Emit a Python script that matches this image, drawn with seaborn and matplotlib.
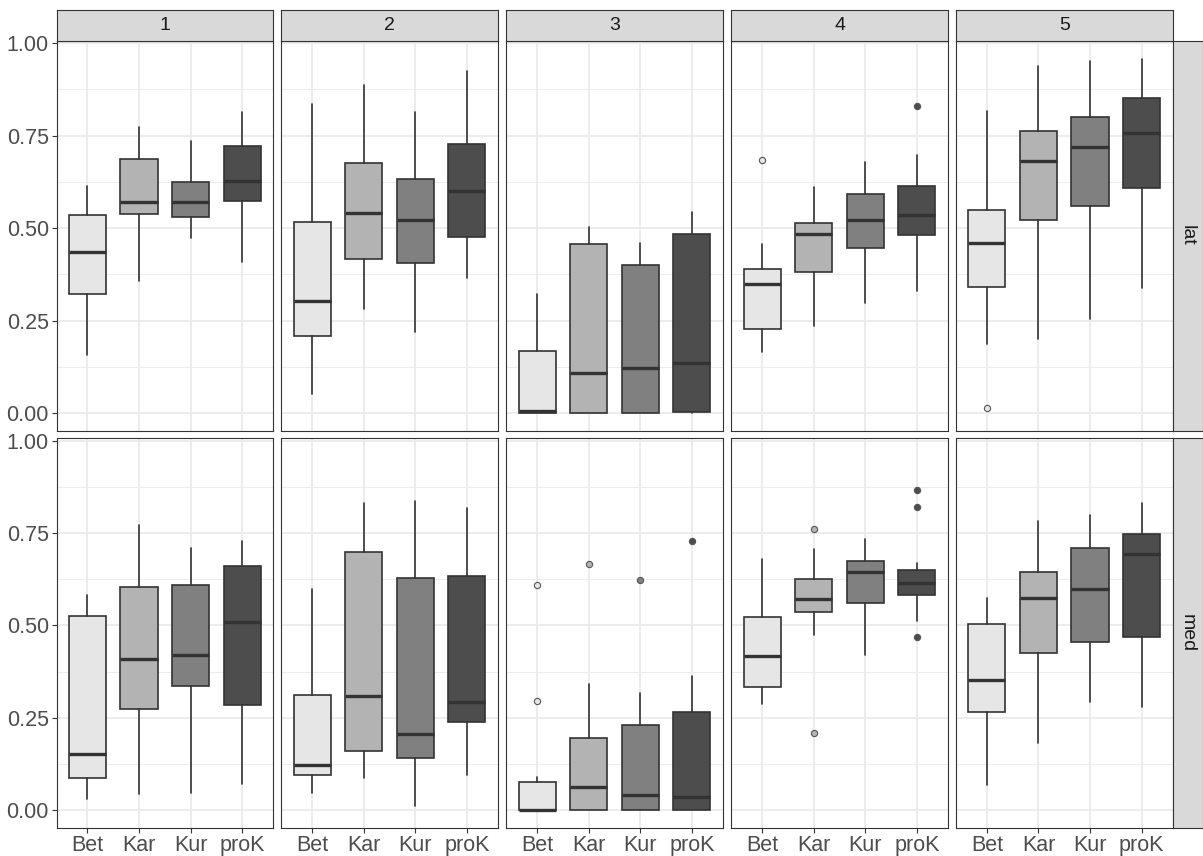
import matplotlib
matplotlib.use("Agg")
import matplotlib.pyplot as plt
import seaborn as sns

sns.set_theme(style="white")
plt.rcParams['font.family'] = ['Liberation Sans', 'DejaVu Sans']

# ---------------- data ----------------
groups = ["Bet", "Kar", "Kur", "proK"]
facets = ["1", "2", "3", "4", "5"]
rows = ["lat", "med"]
fills = ["#E6E6E6", "#B3B3B3", "#808080", "#4D4D4D"]

# each list: one row per facet (1..5), one value per group (Bet, Kar, Kur, proK)
lat_lo = [[0.158, 0.356, 0.474, 0.408],
          [0.051, 0.281, 0.218, 0.364],
          [0.000, 0.000, 0.000, 0.000],
          [0.166, 0.236, 0.297, 0.329],
          [0.187, 0.201, 0.255, 0.338]]
lat_q1 = [[0.323, 0.537, 0.531, 0.574],
          [0.209, 0.416, 0.406, 0.476],
          [0.000, 0.000, 0.000, 0.003],
          [0.227, 0.381, 0.445, 0.481],
          [0.342, 0.523, 0.560, 0.608]]
lat_med = [[0.436, 0.570, 0.570, 0.628],
           [0.304, 0.542, 0.522, 0.601],
           [0.005, 0.107, 0.121, 0.134],
           [0.348, 0.483, 0.523, 0.535],
           [0.459, 0.681, 0.719, 0.756]]
lat_q3 = [[0.536, 0.687, 0.624, 0.721],
          [0.517, 0.676, 0.633, 0.727],
          [0.168, 0.456, 0.400, 0.484],
          [0.390, 0.515, 0.592, 0.614],
          [0.548, 0.764, 0.801, 0.853]]
lat_hi = [[0.615, 0.773, 0.736, 0.814],
          [0.837, 0.886, 0.815, 0.924],
          [0.323, 0.502, 0.460, 0.543],
          [0.456, 0.610, 0.678, 0.699],
          [0.817, 0.939, 0.953, 0.958]]
lat_out = [[[], [], [], []],
           [[], [], [], []],
           [[], [], [], []],
           [[0.685], [], [], [0.831]],
           [[0.014], [], [], []]]

med_lo = [[0.030, 0.043, 0.045, 0.070],
          [0.045, 0.086, 0.012, 0.095],
          [0.000, 0.000, 0.000, 0.000],
          [0.288, 0.473, 0.420, 0.511],
          [0.068, 0.181, 0.292, 0.280]]
med_q1 = [[0.086, 0.273, 0.336, 0.284],
          [0.096, 0.159, 0.142, 0.239],
          [0.000, 0.000, 0.000, 0.000],
          [0.334, 0.536, 0.560, 0.583],
          [0.265, 0.424, 0.455, 0.470]]
med_med = [[0.151, 0.410, 0.419, 0.510],
           [0.122, 0.309, 0.205, 0.292],
           [0.001, 0.063, 0.041, 0.036],
           [0.417, 0.572, 0.645, 0.615],
           [0.353, 0.575, 0.598, 0.694]]
med_q3 = [[0.525, 0.603, 0.609, 0.661],
          [0.311, 0.698, 0.629, 0.634],
          [0.077, 0.196, 0.230, 0.265],
          [0.524, 0.625, 0.675, 0.651],
          [0.505, 0.645, 0.710, 0.748]]
med_hi = [[0.582, 0.772, 0.709, 0.728],
          [0.599, 0.831, 0.837, 0.817],
          [0.090, 0.340, 0.317, 0.363],
          [0.680, 0.706, 0.734, 0.670],
          [0.574, 0.782, 0.799, 0.833]]
med_out = [[[], [], [], []],
           [[], [], [], []],
           [[0.610, 0.295], [0.666], [0.624], [0.730]],
           [[], [0.761, 0.209], [], [0.867, 0.820, 0.470]],
           [[], [], [], []]]

y_ticks = [0.00, 0.25, 0.50, 0.75, 1.00]
y_minor = [0.125, 0.375, 0.625, 0.875]

stats = {
    "lat": (lat_lo, lat_q1, lat_med, lat_q3, lat_hi, lat_out),
    "med": (med_lo, med_q1, med_med, med_q3, med_hi, med_out),
}

# ---------------- layout ----------------
W, H = 1203, 856
fig = plt.figure(figsize=(W / 100, H / 100), dpi=100)
fig.patch.set_facecolor("white")

col_x = [56.5, 281.3, 506.3, 731.3, 956.0]
pw = 216.5
row_y = [(40.7, 430.7), (438.3, 827.7)]
strip_top = 10.0
strip_right_w = 30.0
border = "#333333"
grid_c = "#EBEBEB"
text_c = "#4D4D4D"

for r, row in enumerate(rows):
    lo, q1, md, q3, hi, outs = stats[row]
    y0, y1 = row_y[r]
    for c in range(len(facets)):
        x0 = col_x[c]
        ax = fig.add_axes([x0 / W, 1 - y1 / H, pw / W, (y1 - y0) / H])
        ax.set_facecolor("white")
        ax.set_xlim(-0.6, 3.6)
        ax.set_ylim(-0.048, 1.007)
        ax.set_yticks(y_ticks)
        ax.set_yticks(y_minor, minor=True)
        ax.set_xticks(range(len(groups)))
        ax.grid(which="major", color=grid_c, lw=1.3)
        ax.grid(which="minor", axis="y", color=grid_c, lw=0.65)
        ax.set_axisbelow(True)

        bstats = []
        for g in range(len(groups)):
            bstats.append(dict(med=md[c][g], q1=q1[c][g], q3=q3[c][g],
                               whislo=lo[c][g], whishi=hi[c][g],
                               fliers=outs[c][g], label=groups[g]))
        bp = ax.bxp(bstats, positions=range(len(groups)), widths=0.72,
                    patch_artist=True, showcaps=False, manage_ticks=False,
                    boxprops=dict(edgecolor=border, lw=1.2),
                    medianprops=dict(color=border, lw=2.4, solid_capstyle="butt"),
                    whiskerprops=dict(color=border, lw=1.2),
                    flierprops=dict(marker="o", markersize=4.5,
                                    markeredgecolor="#555555",
                                    markeredgewidth=0.8))
        for patch, col in zip(bp["boxes"], fills):
            patch.set_facecolor(col)
        for fl, col in zip(bp["fliers"], fills):
            fl.set_markerfacecolor(col)

        for sp in ax.spines.values():
            sp.set_color(border)
            sp.set_linewidth(0.8)

        if c == 0:
            ax.set_yticklabels([f"{v:.2f}" for v in y_ticks])
            ax.tick_params(axis="y", which="major", length=3.5, width=0.8,
                           color=border, labelsize=15.5, labelcolor=text_c, pad=2,
                           left=True)
        else:
            ax.set_yticklabels([])
            ax.tick_params(axis="y", which="major", length=0)
        ax.tick_params(axis="y", which="minor", length=0)

        if r == len(rows) - 1:
            ax.set_xticklabels(groups)
            ax.tick_params(axis="x", length=3.5, width=0.8, color=border,
                           labelsize=15.5, labelcolor=text_c, pad=2, bottom=True)
        else:
            ax.set_xticklabels([])
            ax.tick_params(axis="x", length=0)

        # top strips
        if r == 0:
            sax = fig.add_axes([x0 / W, 1 - y0 / H, pw / W, (y0 - strip_top) / H])
            sax.set_facecolor("#D9D9D9")
            sax.set_xticks([]); sax.set_yticks([])
            for sp in sax.spines.values():
                sp.set_color(border); sp.set_linewidth(0.8)
            sax.text(0.5, 0.5, facets[c], ha="center", va="center",
                     fontsize=14, color="#1A1A1A", transform=sax.transAxes)

    # right strip
    xr = col_x[-1] + pw
    rax = fig.add_axes([xr / W, 1 - y1 / H, strip_right_w / W, (y1 - y0) / H])
    rax.set_facecolor("#D9D9D9")
    rax.set_xticks([]); rax.set_yticks([])
    for sp in rax.spines.values():
        sp.set_color(border); sp.set_linewidth(0.8)
    rax.text(0.5, 0.5, row, ha="center", va="center", rotation=270,
             fontsize=14, color="#1A1A1A", transform=rax.transAxes)

fig.savefig("out.png", dpi=100, facecolor="white")
